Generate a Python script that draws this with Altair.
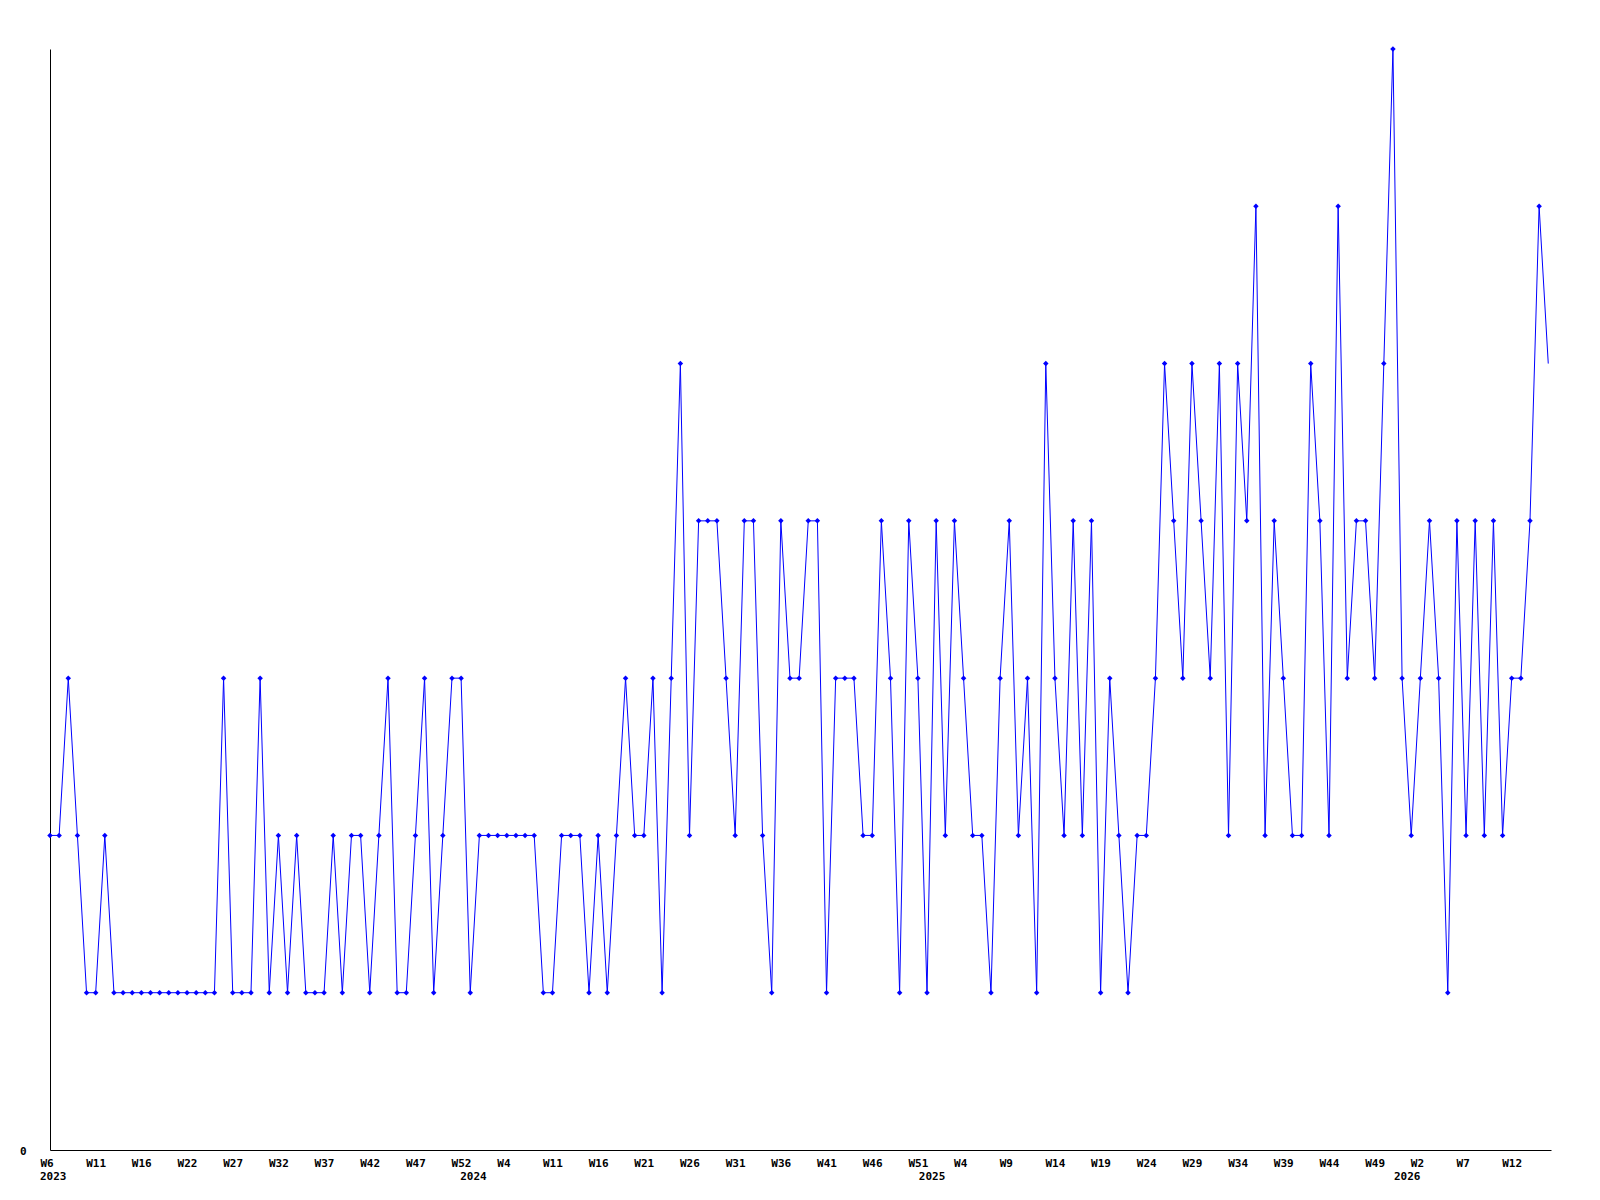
import altair as alt
import pandas as pd

# weekly values (index 0 = first week shown)
values = [
    2, 2, 3, 2, 1, 1, 2, 1, 1, 1, 1, 1, 1, 1, 1, 1, 1, 1, 1, 3, 1, 1, 1, 3, 1, 2,
    1, 2, 1, 1, 1, 2, 1, 2, 2, 1, 2, 3, 1, 1, 2, 3, 1, 2, 3, 3, 1, 2, 2, 2, 2, 2,
    2, 2, 1, 1, 2, 2, 2, 1, 2, 1, 2, 3, 2, 2, 3, 1, 3, 5, 2, 4, 4, 4, 3, 2, 4, 4,
    2, 1, 4, 3, 3, 4, 4, 1, 3, 3, 3, 2, 2, 4, 3, 1, 4, 3, 1, 4, 2, 4, 3, 2, 2, 1,
    3, 4, 2, 3, 1, 5, 3, 2, 4, 2, 4, 1, 3, 2, 1, 2, 2, 3, 5, 4, 3, 5, 4, 3, 5, 2,
    5, 4, 6, 2, 4, 3, 2, 2, 5, 4, 2, 6, 3, 4, 4, 3, 5, 7, 3, 2, 3, 4, 3, 1, 4, 2,
    4, 2, 4, 2, 3, 3, 4, 6, 5,
]
week_index = list(range(len(values)))

tick_positions = list(range(0, 161, 5))
tick_labels = [
    "W6", "W11", "W16", "W22", "W27", "W32", "W37", "W42", "W47", "W52",
    "W4", "W11", "W16", "W21", "W26", "W31", "W36", "W41", "W46", "W51",
    "W4", "W9", "W14", "W19", "W24", "W29", "W34", "W39", "W44", "W49",
    "W2", "W7", "W12",
]
year_labels = ["2023", "2024", "2025", "2026"]
year_positions = [0, 46, 96.2, 148.2]

df = pd.DataFrame({"i": week_index, "v": values})
years = pd.DataFrame({"pos": year_positions, "year": year_labels})

label_array = "[" + ",".join(f"'{l}'" for l in tick_labels) + "]"
FONT = "DejaVu Sans Mono"
BLUE = "#0000ff"
W, H = 1501, 1101
XMAX = 164.3

xscale = alt.Scale(domain=[0, XMAX], nice=False, zero=False)
yscale = alt.Scale(domain=[0, 7], nice=False, zero=True)

x_axis = alt.Axis(
    values=tick_positions,
    labelExpr=f"{label_array}[round(datum.value/5)]",
    ticks=False, tickSize=0, grid=False, title=None,
    domainColor="black", domainWidth=1,
    labelFont=FONT, labelFontSize=11, labelFontWeight="bold", labelColor="black",
    labelAlign="left", labelOffset=-10, labelBaseline="top", labelPadding=7,
    labelOverlap=False, labelBound=False, labelFlush=False,
)
y_axis = alt.Axis(
    values=[0], labelExpr="'0'", ticks=False, tickSize=0, grid=False, title=None,
    domainColor="black", domainWidth=1,
    labelFont=FONT, labelFontSize=11, labelFontWeight="bold", labelColor="black",
    labelPadding=24, labelBaseline="middle", labelOffset=1,
)

base = alt.Chart(df)

line = base.mark_line(color=BLUE, strokeWidth=1, clip=False).encode(
    x=alt.X("i:Q", scale=xscale, axis=x_axis),
    y=alt.Y("v:Q", scale=yscale, axis=y_axis),
)

points = base.transform_filter(f"datum.i < {len(values) - 1}").mark_point(
    shape="diamond", filled=True, size=30, color=BLUE, opacity=1
).encode(
    x=alt.X("i:Q", scale=xscale),
    y=alt.Y("v:Q", scale=yscale),
)

year_text = alt.Chart(years).mark_text(
    font=FONT, fontSize=11, fontWeight="bold", color="black",
    align="left", baseline="alphabetic", dx=-10,
).encode(
    x=alt.X("pos:Q", scale=xscale),
    y=alt.value(1131),
    text="year:N",
)

chart = (
    alt.layer(line, points, year_text)
    .properties(
        width=W, height=H,
        autosize="none",
        padding={"left": 42, "top": 41, "right": 20, "bottom": 50},
        background="white",
    )
    .configure_view(stroke=None)
)

chart.save("out.html", embed_options={"renderer": "svg", "actions": False})
